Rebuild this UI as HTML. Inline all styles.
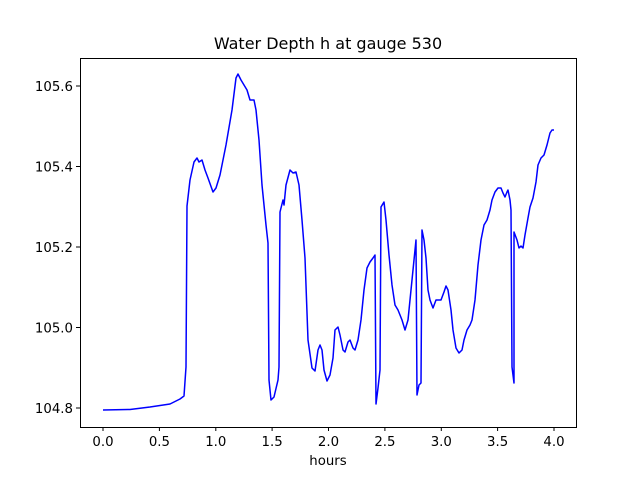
<!DOCTYPE html>
<html><head><style>body{margin:0;background:#fff}svg{display:block}text{font-family:"DejaVu Sans","Liberation Sans",sans-serif;font-size:13.3px;fill:#000}</style></head><body>
<svg width="640" height="480" xmlns="http://www.w3.org/2000/svg">
<rect width="640" height="480" fill="#fff"/>
<text x="328" y="49" text-anchor="middle" style="font-size:16px">Water Depth h at gauge 530</text>
<polyline fill="none" stroke="#0000ff" stroke-width="1.5" stroke-linejoin="round" points="103,410 130,409.5 150,407 170,404 180,399 184,396 186,367 187,206 190,180 194,162 197,158 199,162 202,160 205,170 208,178 213,192 216,188 220,175 226,145 232,110 236,78 238,74 241,80 247,90 250,100 254,100 256,110 259,140 262,185 266,225 268,243 269,380 271,400 274,397 278,380 279,367 280,212 283,200 284,205 286,185 290,170 293,173 296,172 299,185 302,220 305,258 308,340 312,368 315,371 318,350 320,345 322,350 324,370 327,381 330,375 333,358 335,330 338,327 340,335 343,350 345,352 348,342 350,340 353,348 355,350 358,340 361,320 364,290 367,268 370,262 373,258 375,255 376,404 378,388 380,370 381,207 384,202 386,220 389,255 392,285 395,305 398,310 402,320 405,330 408,320 411,290 414,260 416,240 417,395 419,385 421,383 422,230 424,240 426,258 428,290 430,300 433,308 436,300 441,300 444,292 446,286 448,290 451,310 453,330 456,348 459,353 462,350 464,340 467,330 470,325 472,320 475,300 478,265 481,240 484,225 487,220 490,210 492,200 495,192 498,188 501,188 503,193 505,197 507,192 508,190 510,200 511,210 512,367 514,383 514,232 517,240 519,248 521,246 523,248 525,235 528,218 530,207 533,198 536,182 538,165 541,158 544,155 547,145 550,133 552,130 554,130"/>
<rect x="80.5" y="58.5" width="496" height="369" fill="none" stroke="#000" stroke-width="1"/>
<g stroke="#000">
<line x1="103" y1="427" x2="103" y2="431"/><line x1="159.4" y1="427" x2="159.4" y2="431"/><line x1="215.8" y1="427" x2="215.8" y2="431"/><line x1="272.1" y1="427" x2="272.1" y2="431"/><line x1="328.5" y1="427" x2="328.5" y2="431"/><line x1="384.9" y1="427" x2="384.9" y2="431"/><line x1="441.3" y1="427" x2="441.3" y2="431"/><line x1="497.6" y1="427" x2="497.6" y2="431"/><line x1="554" y1="427" x2="554" y2="431"/>
<line x1="76" y1="408" x2="80" y2="408"/><line x1="76" y1="327.5" x2="80" y2="327.5"/><line x1="76" y1="247" x2="80" y2="247"/><line x1="76" y1="166.5" x2="80" y2="166.5"/><line x1="76" y1="86" x2="80" y2="86"/>
</g>
<g text-anchor="middle">
<text x="103" y="446">0.0</text><text x="159.4" y="446">0.5</text><text x="215.8" y="446">1.0</text><text x="272.1" y="446">1.5</text><text x="328.5" y="446">2.0</text><text x="384.9" y="446">2.5</text><text x="441.3" y="446">3.0</text><text x="497.6" y="446">3.5</text><text x="554" y="446">4.0</text>
<text x="328" y="465">hours</text>
</g>
<g text-anchor="end">
<text x="73" y="413">104.8</text><text x="73" y="332.5">105.0</text><text x="73" y="252">105.2</text><text x="73" y="171.5">105.4</text><text x="73" y="91">105.6</text>
</g>
</svg>
</body></html>
